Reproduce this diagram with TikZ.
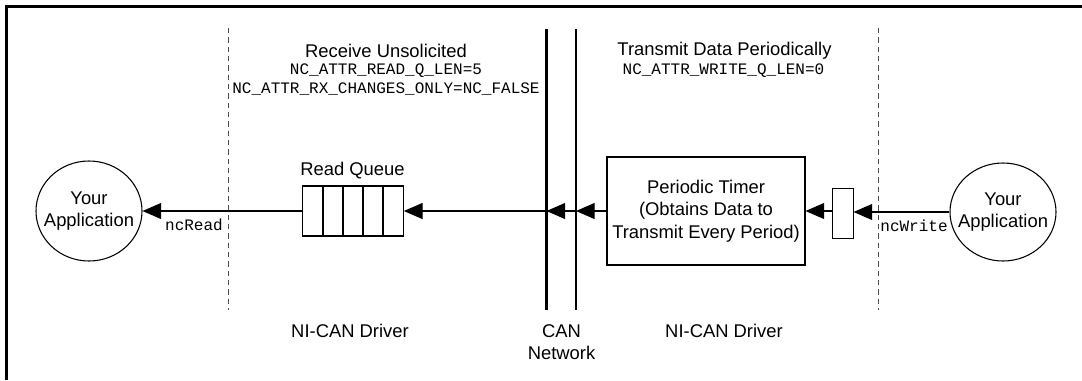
\documentclass[tikz,border=0pt]{standalone}
\usepackage{fontspec}
\setmainfont{Liberation Sans}
\setmonofont{Liberation Mono}
\usetikzlibrary{shapes.geometric,arrows.meta}
\begin{document}
\begin{tikzpicture}[x=0.75pt,y=-0.75pt,
  txt/.style={font=\fontsize{13.8}{17}\selectfont, align=center, inner sep=0pt},
  mono/.style={font=\ttfamily\fontsize{12}{13.5}\selectfont, align=center, inner sep=0pt},
  app/.style={ellipse, draw, line width=0.8pt, minimum width=79.5pt, minimum height=75pt, inner sep=0pt},
  box/.style={rectangle, draw, line width=0.8pt, inner sep=0pt},
  flow/.style={line width=0.8pt, -{Triangle[length=14pt,width=12pt]}},
  sep/.style={line width=0.7pt, draw=black!70, dash pattern=on 4pt off 3pt},
  can/.style={line width=1.8pt},
  frame/.style={line width=1.6pt}]
\useasboundingbox (0,0) rectangle (1082,380);
% frame
\coordinate (f1) at (6.5,380);
\coordinate (f2) at (6.5,6.5);
\coordinate (f3) at (1082,6.5);
\draw[frame] (f1) -- (f2) -- (f3);
% dashed separators
\coordinate (dlT) at (228,28);
\coordinate (dlB) at (228,310);
\coordinate (drT) at (878,28);
\coordinate (drB) at (878,310);
\draw[sep] (dlT) -- (dlB);
\draw[sep] (drT) -- (drB);
% CAN lines
\coordinate (c1T) at (546.5,29);
\coordinate (c1B) at (546.5,310);
\coordinate (c1m) at (546.5,211);
\coordinate (c2T) at (576,29);
\coordinate (c2B) at (576,310);
\coordinate (c2m) at (576,211);
\draw[can] (c1T) -- (c1B);
\draw[can] (c2T) -- (c2B);
% nodes
\node[app] (appL) at (89,211) {};
\node[txt] (appLt) at (appL.center) {Your\\Application};
\node[app, minimum height=73.5pt] (appR) at (1003,212) {};
\node[txt] (appRt) at (appR.center) {Your\\Application};
\node[box, minimum width=75.5pt, minimum height=37.5pt] (queue) at (353,211) {};
\foreach \xx in {322.8,343,363.2,383.4}{
  \draw[line width=1.4pt] (\xx,186) -- (\xx,236);
}
\node[box, txt, minimum width=148.5pt, minimum height=81pt] (timer) at (706,211) {Periodic Timer\\(Obtains Data to\\Transmit Every Period)};
\node[box, minimum width=15.5pt, minimum height=37pt] (small) at (842.7,213.5) {};
% labels
\node[txt] (rq) at (352.5,171) {Read Queue};
\node[mono] (ncr) at (194,225) {ncRead};
\node[mono] (ncw) at (914,226) {ncWrite};
\node[txt] (t1) at (386,51) {Receive Unsolicited};
\node[mono] (m1) at (386,71) {NC\_ATTR\_READ\_Q\_LEN=5};
\node[mono] (m2) at (386,89) {NC\_ATTR\_RX\_CHANGES\_ONLY=NC\_FALSE};
\node[txt] (t2) at (724.5,51) {Transmit Data Periodically};
\node[mono] (m3) at (723.5,71) {NC\_ATTR\_WRITE\_Q\_LEN=0};
\node[txt] (d1) at (350,331) {NI-CAN Driver};
\node[txt] (d2) at (561.5,342) {CAN\\Network};
\node[txt] (d3) at (724,331) {NI-CAN Driver};
% connectors
\draw[flow] (queue.west) -- (appL.east);
\draw[flow] (c1m) -- (queue.east);
\draw[flow] (c2m) -- (c1m);
\draw[flow] (timer.west) -- (c2m);
\draw[flow] (small.west |- timer.east) -- (timer.east);
\draw[flow] (appR.west) -- (small.east |- appR.west);
\end{tikzpicture}
\end{document}
